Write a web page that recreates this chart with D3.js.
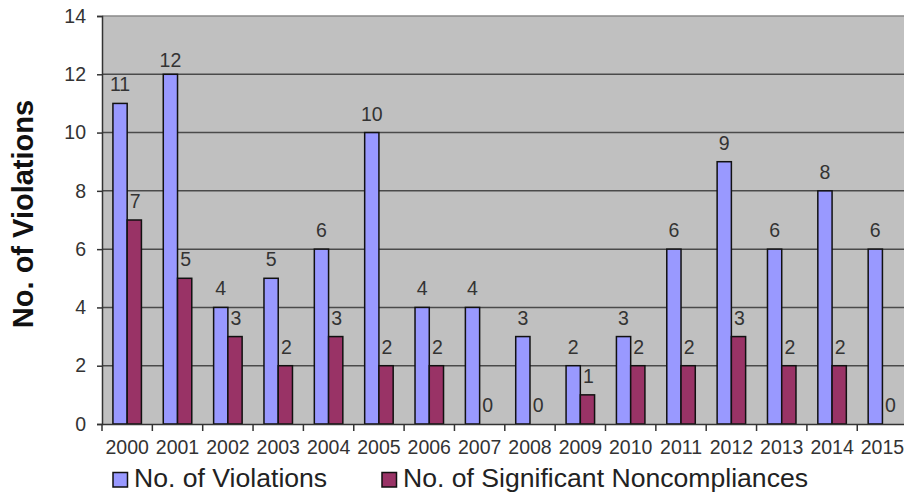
<!DOCTYPE html>
<html>
<head>
<meta charset="utf-8">
<script src="https://cdn.jsdelivr.net/npm/d3@7"></script>
<style>
  html, body { margin: 0; padding: 0; background: #fff; }
  svg { display: block; font-family: "Liberation Sans", Arial, sans-serif; }
</style>
</head>
<body>
<svg id="chart" width="904" height="495"></svg>
<script>
const years = ["2000","2001","2002","2003","2004","2005","2006","2007","2008","2009","2010","2011","2012","2013","2014","2015"];
const violations = [11, 12, 4, 5, 6, 10, 4, 4, 3, 2, 3, 6, 9, 6, 8, 6];
const noncompliances = [7, 5, 3, 2, 3, 2, 2, 0, 0, 1, 2, 2, 3, 2, 2, 0];
const seriesNames = ["No. of Violations", "No. of Significant Noncompliances"];
const seriesColors = ["#9999FF", "#993366"];
const yTicks = [0, 2, 4, 6, 8, 10, 12, 14];
const yTitle = "No. of Violations";

(function () {
const svg = d3.select("#chart");
const pL = 102, pR = 907.6, pT = 16, pB = 424;

const x = d3.scaleBand().domain(years).range([pL, pR]).padding(0);
const y = d3.scaleLinear().domain([0, 14]).range([pB, pT]);
const groupW = 28.5;
const xs = d3.scaleBand().domain([0, 1])
  .range([x.bandwidth() / 2 - groupW / 2, x.bandwidth() / 2 + groupW / 2]).padding(0);

// plot background
svg.append("rect").attr("x", pL).attr("y", pT)
  .attr("width", pR - pL).attr("height", pB - pT)
  .attr("fill", "#C0C0C0");

// gridlines
svg.append("g").selectAll("line").data(yTicks.filter(t => t > 0)).join("line")
  .attr("x1", pL).attr("x2", pR)
  .attr("y1", d => y(d)).attr("y2", d => y(d))
  .attr("stroke", d => d === 14 ? "#8a8a8a" : "#4a4a4a")
  .attr("stroke-width", 1.5);

// y axis
const yAxis = d3.axisLeft(y).tickValues(yTicks).tickSize(5).tickPadding(11);
const gy = svg.append("g").attr("transform", `translate(${pL},0)`).call(yAxis);
gy.select(".domain").attr("stroke", "#333").attr("stroke-width", 1.5);
gy.selectAll(".tick line").attr("stroke", "#333").attr("stroke-width", 1.5);
gy.selectAll(".tick text").attr("fill", "#333").attr("font-size", "19.5px")
  .attr("font-family", "Liberation Sans, Arial, sans-serif");

// bars
const data = years.map((yr, i) => ({ yr, vals: [violations[i], noncompliances[i]] }));
const groups = svg.append("g").selectAll("g").data(data).join("g")
  .attr("transform", d => `translate(${x(d.yr)},0)`);

groups.selectAll("rect").data(d => d.vals.map((v, k) => ({ v, k }))).join("rect")
  .attr("x", d => xs(d.k))
  .attr("y", d => y(d.v))
  .attr("width", xs.bandwidth())
  .attr("height", d => y(0) - y(d.v))
  .attr("fill", d => seriesColors[d.k])
  .attr("stroke", "#111")
  .attr("stroke-width", 1.5)
  .attr("display", d => d.v === 0 ? "none" : null);

groups.selectAll("text").data(d => d.vals.map((v, k) => ({ v, k }))).join("text")
  .attr("x", d => xs(d.k) + xs.bandwidth() / 2 + (d.k === 1 ? 1 : 0))
  .attr("y", d => Math.max(y(d.v) - 12, 67))
  .attr("text-anchor", "middle")
  .attr("font-size", "19.5px")
  .attr("fill", "#333")
  .text(d => d.v);

// x axis
const xAxis = d3.axisBottom(x).tickSize(0).tickPadding(16);
const gx = svg.append("g").attr("transform", `translate(0,${pB})`).call(xAxis);
gx.select(".domain").attr("stroke", "#333").attr("stroke-width", 1.5);
gx.selectAll(".tick text").attr("fill", "#333").attr("font-size", "19.5px")
  .attr("font-family", "Liberation Sans, Arial, sans-serif");
// category separator ticks
gx.append("g").selectAll("line").data(years.concat(["end"])).join("line")
  .attr("x1", (d, i) => pL + i * x.bandwidth())
  .attr("x2", (d, i) => pL + i * x.bandwidth())
  .attr("y1", 0).attr("y2", 7)
  .attr("stroke", "#333").attr("stroke-width", 1.5);

// y title
svg.append("text")
  .attr("transform", "translate(33,214) rotate(-90)")
  .attr("text-anchor", "middle")
  .attr("font-size", "29px")
  .attr("font-weight", "bold")
  .attr("fill", "#111")
  .text(yTitle);

// legend
const legendX = [113, 382];
const lg = svg.append("g").selectAll("g").data(seriesNames).join("g")
  .attr("transform", (d, i) => `translate(${legendX[i]},472.5)`);
lg.append("rect").attr("width", 14.5).attr("height", 14.5)
  .attr("fill", (d, i) => seriesColors[i])
  .attr("stroke", "#111").attr("stroke-width", 1.5);
lg.append("text").attr("x", 21).attr("y", 14.5)
  .attr("font-size", "26.6px").attr("fill", "#222")
  .text(d => d);
})();
</script>
</body>
</html>
